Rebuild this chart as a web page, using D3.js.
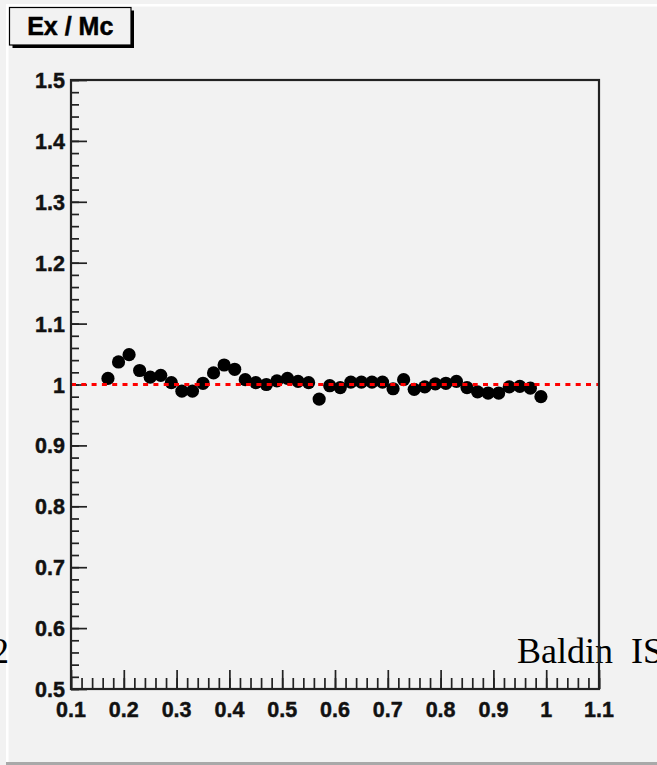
<!DOCTYPE html>
<html>
<head>
<meta charset="utf-8">
<script src="https://cdn.jsdelivr.net/npm/d3@7/dist/d3.min.js"></script>
<style>
  html, body { margin: 0; padding: 0; background: #f2f2f2; }
  svg { display: block; }
</style>
</head>
<body>
<svg id="chart" width="657" height="765"></svg>
<script>
// Ratio Ex / Mc versus x
const xValues = [0.17, 0.19, 0.21, 0.23, 0.25, 0.27, 0.29, 0.31, 0.33, 0.35,
                 0.37, 0.39, 0.41, 0.43, 0.45, 0.47, 0.49, 0.51, 0.53, 0.55,
                 0.57, 0.59, 0.61, 0.63, 0.65, 0.67, 0.69, 0.71, 0.73, 0.75,
                 0.77, 0.79, 0.81, 0.83, 0.85, 0.87, 0.89, 0.91, 0.93, 0.95,
                 0.97, 0.99];
const ratioValues = [1.010, 1.037, 1.049, 1.023, 1.012, 1.015, 1.003, 0.989, 0.989, 1.002,
                     1.019, 1.032, 1.025, 1.008, 1.003, 1.000, 1.006, 1.010, 1.005, 1.003,
                     0.976, 0.998, 0.995, 1.004, 1.004, 1.004, 1.004, 0.993, 1.008, 0.992,
                     0.996, 1.001, 1.002, 1.005, 0.995, 0.988, 0.986, 0.986, 0.996, 0.997,
                     0.994, 0.980];
const xTickLabels = ["0.1", "0.2", "0.3", "0.4", "0.5", "0.6", "0.7", "0.8", "0.9", "1", "1.1"];
const yTickLabels = ["0.5", "0.6", "0.7", "0.8", "0.9", "1", "1.1", "1.2", "1.3", "1.4", "1.5"];
const referenceLevel = [1.0];
const titleText = "Ex / Mc";
const footerLeft = "2";
const footerRight = "Baldin  IS";

const W = 657, H = 765;
const frame = { left: 71, right: 599, top: 80, bottom: 689 };
const axisColor = "#222";
const sansBold = "'Liberation Sans', Arial, Helvetica, sans-serif";
const serif = "'Liberation Serif', 'Times New Roman', serif";

const svg = d3.select("#chart");

// canvas background with bevel edges
svg.append("rect").attr("x", 0).attr("y", 0).attr("width", W).attr("height", H).attr("fill", "#f2f2f2");
svg.append("rect").attr("x", 6).attr("y", 4).attr("width", W - 6).attr("height", 2.5).attr("fill", "#ffffff");
svg.append("rect").attr("x", 6).attr("y", 4).attr("width", 2.5).attr("height", 758).attr("fill", "#ffffff");
svg.append("rect").attr("x", 6).attr("y", 762).attr("width", W - 6).attr("height", 3).attr("fill", "#a9a9a9");

const x = d3.scaleLinear().domain([0.1, 1.1]).range([frame.left, frame.right]);
const y = d3.scaleLinear().domain([0.5, 1.5]).range([frame.bottom, frame.top]);

// minor ticks every 0.02
const minorY = d3.range(0, 51).map(i => +(0.5 + i * 0.02).toFixed(2));
const minorX = d3.range(0, 51).map(i => +(0.1 + i * 0.02).toFixed(2));

// x axis: ticks pointing up into the frame
const gx = svg.append("g").attr("transform", `translate(0,${frame.bottom})`);
gx.call(d3.axisBottom(x).tickValues(minorX).tickSize(-11).tickFormat(""));
gx.append("g").call(d3.axisBottom(x).tickValues(xTickLabels.map(Number)).tickSize(-19).tickFormat(""));
gx.selectAll(".domain").remove();
gx.selectAll("line").attr("stroke", axisColor).attr("stroke-width", 1.7);

// y axis: ticks pointing right into the frame
const gy = svg.append("g").attr("transform", `translate(${frame.left},0)`);
gy.call(d3.axisLeft(y).tickValues(minorY).tickSize(-8).tickFormat(""));
gy.append("g").call(d3.axisLeft(y).tickValues(yTickLabels.map(Number)).tickSize(-16).tickFormat(""));
gy.selectAll(".domain").remove();
gy.selectAll("line").attr("stroke", axisColor).attr("stroke-width", 1.7);

// tick labels
svg.append("g").selectAll("text").data(xTickLabels).join("text")
  .attr("x", d => x(+d))
  .attr("y", 717)
  .attr("text-anchor", "middle")
  .attr("font-family", sansBold)
  .attr("font-weight", "bold")
  .attr("font-size", 21.5)
  .attr("fill", "#111")
  .attr("stroke", "#111")
  .attr("stroke-width", 0.45)
  .text(d => d);

svg.append("g").selectAll("text").data(yTickLabels).join("text")
  .attr("x", 65)
  .attr("y", d => y(+d) + 8)
  .attr("text-anchor", "end")
  .attr("font-family", sansBold)
  .attr("font-weight", "bold")
  .attr("font-size", 21.5)
  .attr("fill", "#111")
  .attr("stroke", "#111")
  .attr("stroke-width", 0.45)
  .text(d => d);

// data markers
svg.append("g").selectAll("circle").data(xValues).join("circle")
  .attr("cx", d => x(d))
  .attr("cy", (d, i) => y(ratioValues[i]))
  .attr("r", 6.6)
  .attr("fill", "#000");

// reference line at unity
svg.append("g").selectAll("line").data(referenceLevel).join("line")
  .attr("x1", frame.left)
  .attr("x2", frame.right)
  .attr("y1", d => y(d))
  .attr("y2", d => y(d))
  .attr("stroke", "#ff0000")
  .attr("stroke-width", 3)
  .attr("stroke-dasharray", "5,5.3");

// footer texts
svg.append("text")
  .attr("x", 9).attr("y", 663)
  .attr("text-anchor", "end")
  .attr("font-family", serif)
  .attr("font-size", 36)
  .attr("fill", "#000")
  .text(footerLeft);
svg.append("text")
  .attr("x", 517).attr("y", 663)
  .attr("font-family", serif)
  .attr("font-size", 36)
  .attr("fill", "#000")
  .style("white-space", "pre")
  .text(footerRight);

// plot frame
svg.append("rect")
  .attr("x", frame.left).attr("y", frame.top)
  .attr("width", frame.right - frame.left)
  .attr("height", frame.bottom - frame.top)
  .attr("fill", "none")
  .attr("stroke", axisColor)
  .attr("stroke-width", 2.2);

// title box with drop shadow
const tb = { x: 9.5, y: 7.5, w: 121.5, h: 37.5 };
svg.append("rect")
  .attr("x", tb.x + 3).attr("y", tb.y + 3)
  .attr("width", tb.w).attr("height", tb.h)
  .attr("fill", "#000");
svg.append("rect")
  .attr("x", tb.x).attr("y", tb.y)
  .attr("width", tb.w).attr("height", tb.h)
  .attr("fill", "#f2f2f2")
  .attr("stroke", "#000")
  .attr("stroke-width", 1.2);
svg.append("text")
  .attr("x", tb.x + tb.w / 2).attr("y", 34.5)
  .attr("text-anchor", "middle")
  .attr("font-family", sansBold)
  .attr("font-weight", "bold")
  .attr("font-size", 25)
  .attr("fill", "#000")
  .attr("stroke", "#000")
  .attr("stroke-width", 0.5)
  .text(titleText);
</script>
</body>
</html>
